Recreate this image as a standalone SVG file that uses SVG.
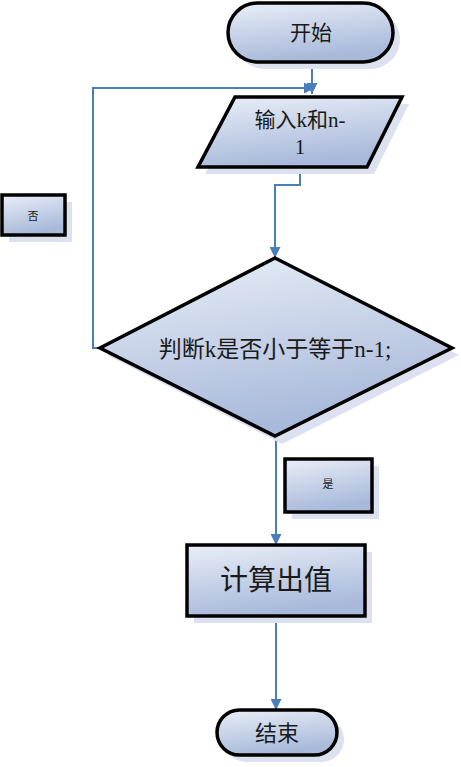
<svg xmlns="http://www.w3.org/2000/svg" width="461" height="767" viewBox="0 0 461 767">
<style>
.shape{fill:url(#g);stroke:#000;stroke-width:3.5;stroke-linejoin:miter}
.shadow{fill:#dbe1ee}
.conn{fill:none;stroke:#4a7ebb;stroke-width:2}
.t{font-family:"Liberation Serif","Noto Sans CJK SC",serif;fill:#1a1a1a;text-anchor:middle}
</style>
<defs>
<linearGradient id="g" x1="0" y1="0" x2="0.3" y2="1">
<stop offset="0" stop-color="#eaeff8"/>
<stop offset="1" stop-color="#a8b9da"/>
</linearGradient>
<marker id="arr" viewBox="0 0 10 10" refX="10" refY="5" markerWidth="5.5" markerHeight="5.5" orient="auto" markerUnits="strokeWidth">
<path d="M0,0 L10,5 L0,10 z" fill="#4a7ebb"/>
</marker>
</defs>
<rect width="461" height="767" fill="#fff"/>
<g id="connectors">
<path class="conn" d="M312,62 V94" marker-end="url(#arr)"/>
<path class="conn" d="M100,348 H93 V88 H315" marker-end="url(#arr)"/>
<path class="conn" d="M300,167 V185 H275 V258" marker-end="url(#arr)"/>
<path class="conn" d="M276,436 V545" marker-end="url(#arr)"/>
<path class="conn" d="M276,616 V710" marker-end="url(#arr)"/>
</g>
<g id="start">
<rect class="shadow" x="235" y="10" width="165" height="59" rx="29.5"/>
<rect class="shape" x="228" y="3" width="165" height="59" rx="29.5"/>
<text class="t" x="311" y="40" font-size="21">开始</text>
</g>
<g id="input">
<polygon class="shadow" points="242,104 409,104 374,174 205,174"/>
<polygon class="shape" points="235,97 402,97 367,167 198,167"/>
<text class="t" x="300" y="127" font-size="21">输入k和n-</text>
<text class="t" x="300" y="154" font-size="21">1</text>
</g>
<g id="no">
<rect class="shadow" x="9" y="202" width="63" height="40"/>
<rect class="shape" x="2" y="195" width="63" height="40"/>
<text class="t" x="33" y="220" font-size="11">否</text>
</g>
<g id="decision">
<polygon class="shadow" points="282,265 459,355 282,444 107,355"/>
<polygon class="shape" points="275,258 452,348 275,436 100,348"/>
<text class="t" x="275" y="357" font-size="23">判断k是否小于等于n-1;</text>
</g>
<g id="yes">
<rect class="shadow" x="292" y="466" width="87" height="53"/>
<rect class="shape" x="285" y="459" width="87" height="53"/>
<text class="t" x="328" y="488" font-size="11">是</text>
</g>
<g id="compute">
<rect class="shadow" x="194" y="552" width="178" height="71"/>
<rect class="shape" x="187" y="545" width="178" height="71"/>
<text class="t" x="276" y="590" font-size="28">计算出值</text>
</g>
<g id="end">
<rect class="shadow" x="224" y="717" width="120" height="45" rx="22.5"/>
<rect class="shape" x="217" y="710" width="120" height="45" rx="22.5"/>
<text class="t" x="277" y="741" font-size="22">结束</text>
</g>
</svg>
